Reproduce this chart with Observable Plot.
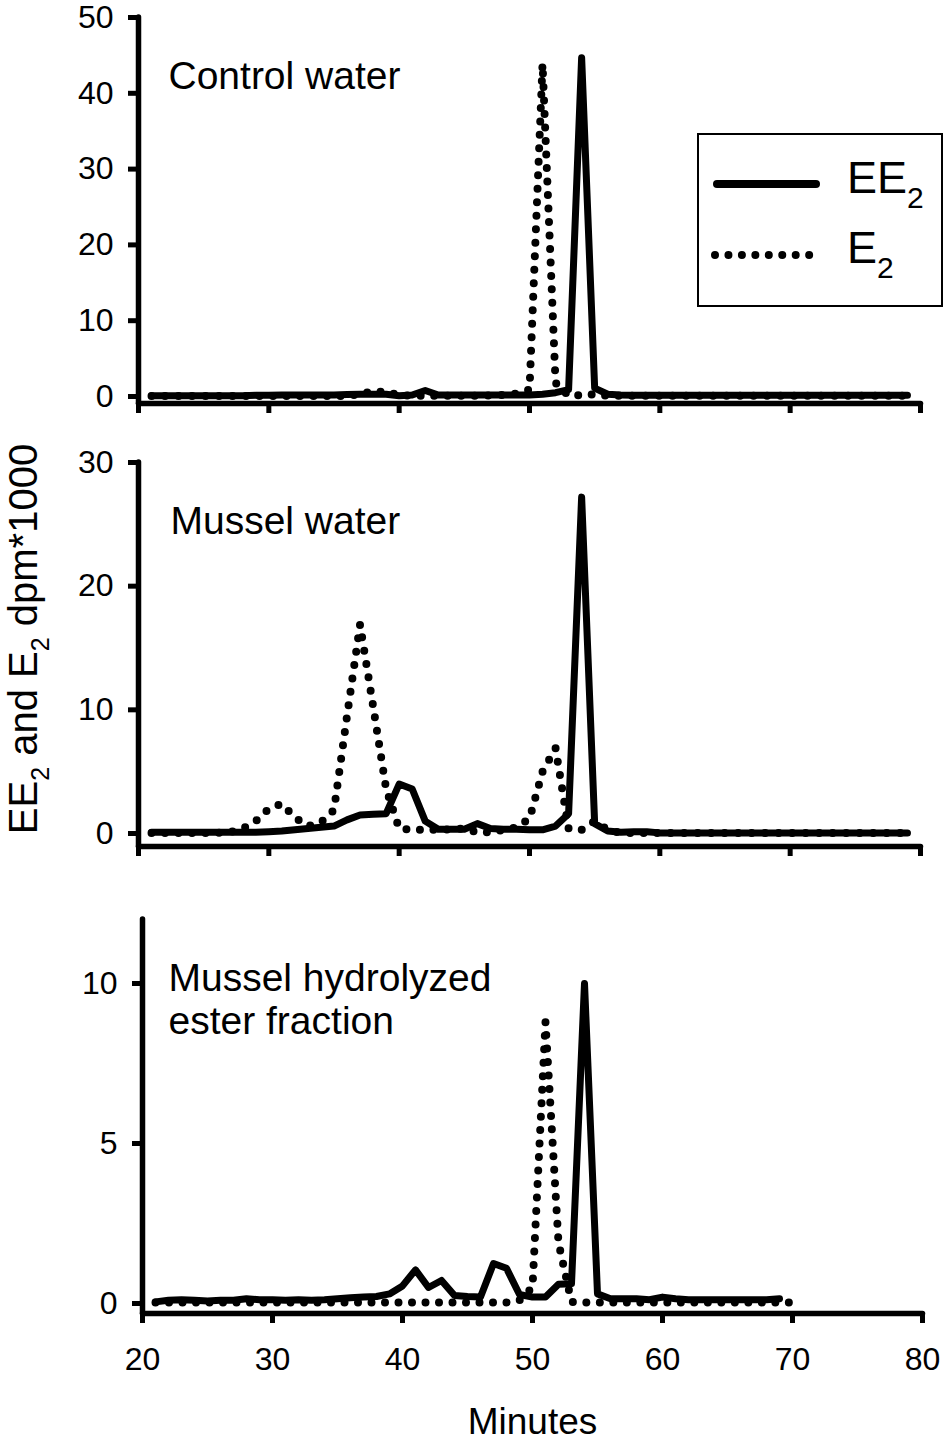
<!DOCTYPE html>
<html>
<head>
<meta charset="utf-8">
<script src="https://cdn.jsdelivr.net/npm/d3@7"></script>
<script src="https://cdn.jsdelivr.net/npm/@observablehq/plot@0.6"></script>
<style>
  body { margin: 0; background: #fff; }
  #chart { position: relative; width: 945px; height: 1439px; font-family: "Liberation Sans", Arial, sans-serif; }
  #chart > svg { position: absolute; left: 0; }
</style>
</head>
<body>
<div id="chart"></div>
<script>
// ---------- data ----------
const xTicks = [20, 30, 40, 50, 60, 70, 80];

const minutesAB = [21,22,23,24,25,26,27,28,29,30,31,32,33,34,35,36,37,38,39,40,41,42,43,44,45,46,47,48,49,50,
  51,52,53,54,55,56,57,58,59,60,61,62,63,64,65,66,67,68,69,70,71,72,73,74,75,76,77,78,79];
const minutesC_EE2 = [21,22,23,24,25,26,27,28,29,30,31,32,33,34,35,36,37,38,39,40,41,42,43,44,45,46,47,48,49,50,
  51,52,53,54,55,56,57,58,59,60,61,62,63,64,65,66,67,68,69];
const minutesC_E2 = [21,22,23,24,25,26,27,28,29,30,31,32,33,34,35,36,37,38,39,40,41,42,43,44,45,46,47,48,49,50,
  51,52,53,54,55,56,57,58,59,60,61,62,63,64,65,66,67,68,69,70];

// Control water
const controlEE2 = [0.1,0.1,0.1,0.1,0.1,0.1,0.1,0.1,0.15,0.15,0.2,0.2,0.2,0.2,0.2,0.25,0.3,0.3,0.3,0.1,
  0.2,0.8,0.2,0.2,0.2,0.2,0.2,0.2,0.2,0.2,0.3,0.5,0.9,44.7,1.1,0.3,0.2,0.15,0.15,0.15,
  0.15,0.15,0.15,0.15,0.15,0.15,0.15,0.15,0.15,0.15,0.15,0.15,0.15,0.15,0.15,0.15,0.15,0.15,0.15];
const controlE2 = [0.05,0.05,0.05,0.05,0.05,0.05,0.05,0.05,0.05,0.05,0.05,0.05,0.05,0.05,0.05,0.05,0.3,0.7,0.6,0.2,
  0.1,0.1,0.1,0.1,0.1,0.1,0.15,0.2,0.4,0.9,43.9,1.8,0.1,0.2,0.3,0.1,0.1,0.1,0.1,0.1,
  0.1,0.1,0.1,0.1,0.1,0.1,0.1,0.1,0.1,0.1,0.1,0.1,0.1,0.1,0.1,0.1,0.1,0.1,0.1];

// Mussel water
const musselEE2 = [0.1,0.1,0.1,0.1,0.1,0.1,0.1,0.1,0.1,0.15,0.2,0.3,0.4,0.5,0.6,1.1,1.5,1.55,1.6,4.0,
  3.6,1.0,0.35,0.35,0.35,0.8,0.4,0.35,0.35,0.3,0.3,0.6,1.6,27.2,0.8,0.2,0.1,0.15,0.15,0.05,
  0.05,0.05,0.05,0.05,0.05,0.05,0.05,0.05,0.05,0.05,0.05,0.05,0.05,0.05,0.05,0.05,0.05,0.05,0.05];
const musselE2 = [0.05,0.05,0.05,0.05,0.05,0.05,0.1,0.4,1.0,2.0,2.4,1.3,0.6,0.9,1.9,9.5,16.9,10.3,3.6,0.4,
  0.3,0.3,0.3,0.35,0.4,0.1,0.1,0.3,0.5,1.2,5.0,6.9,0.4,0.3,1.0,0.3,0.05,0.05,0.05,0.05,
  0.05,0.05,0.05,0.05,0.05,0.05,0.05,0.05,0.05,0.05,0.05,0.05,0.05,0.05,0.05,0.05,0.05,0.05,0.05];

// Mussel hydrolyzed ester fraction
const esterEE2 = [0.05,0.1,0.12,0.1,0.08,0.1,0.1,0.15,0.12,0.12,0.1,0.12,0.1,0.12,0.15,0.18,0.2,0.22,0.3,0.55,
  1.05,0.5,0.72,0.25,0.22,0.2,1.25,1.1,0.28,0.2,0.2,0.6,0.62,10.0,0.3,0.15,0.15,0.15,0.12,0.2,
  0.15,0.12,0.12,0.12,0.12,0.12,0.12,0.12,0.15];
const esterE2 = [0.03,0.03,0.03,0.03,0.03,0.03,0.03,0.03,0.03,0.03,0.03,0.03,0.03,0.03,0.03,0.03,0.03,0.03,0.03,0.03,
  0.03,0.03,0.03,0.03,0.03,0.03,0.03,0.03,0.1,0.5,8.8,1.9,0.05,0.03,0.03,0.03,0.03,0.03,0.03,0.03,
  0.03,0.03,0.03,0.03,0.03,0.03,0.03,0.03,0.03,0.03];

const yTicksTop = [0, 10, 20, 30, 40, 50];
const yTicksMid = [0, 10, 20, 30];
const yTicksBot = [0, 5, 10];

// ---------- drawing ----------
const FONT = "'Liberation Sans', Arial, Helvetica, sans-serif";
const chart = document.getElementById("chart");
const AXW = 5.5;

function panel(cfg) {
  const solid = cfg.xs1.map((m, i) => ({m, v: cfg.ee2[i]}));
  const dotted = cfg.xs2.map((m, i) => ({m, v: cfg.e2[i]}));
  const marks = [
    Plot.ruleX([20], {strokeWidth: AXW, strokeLinecap: "round"}),
    Plot.frame({anchor: "bottom", strokeWidth: AXW, strokeLinecap: "round"}),
    Plot.axisY({ticks: cfg.yTicks, tickSize: 10, tickPadding: 15, fontSize: 32, strokeWidth: 5, label: null}),
    Plot.axisX({ticks: xTicks, tickSize: 10, tickPadding: 24, fontSize: 32, strokeWidth: 5, label: null,
      tickFormat: cfg.showX ? (d => String(d)) : (() => "")}),
    Plot.line(dotted, {x: "m", y: "v", strokeWidth: 8, strokeDasharray: "0 13.5", strokeLinecap: "round"}),
    Plot.line(solid, {x: "m", y: "v", strokeWidth: 7}),
    Plot.text([cfg.title], {text: d => d, frameAnchor: "top-left", dx: cfg.titleDx, dy: 41,
      textAnchor: "start", lineAnchor: "top", fontSize: 39, lineHeight: 1.1})
  ];
  if (cfg.showX) {
    marks.push(Plot.text(["Minutes"], {text: d => d, frameAnchor: "bottom", dy: 94, lineAnchor: "top", fontSize: 37}));
  }
  const svg = Plot.plot({
    width: 945, height: cfg.height,
    marginTop: cfg.marginTop, marginBottom: cfg.marginBottom,
    marginLeft: cfg.marginLeft, marginRight: cfg.marginRight,
    style: {fontFamily: FONT, background: "transparent", color: "#000", overflow: "visible"},
    x: {domain: [20, 80]},
    y: {domain: [0, cfg.yMax], insetBottom: cfg.inset},
    marks
  });
  svg.style.top = cfg.top + "px";
  chart.appendChild(svg);
}

panel({top: 0, height: 440, marginTop: 17, marginBottom: 37, marginLeft: 138, marginRight: 25,
  yMax: 50, inset: 7, yTicks: yTicksTop, xs1: minutesAB, xs2: minutesAB, ee2: controlEE2, e2: controlE2,
  title: "Control water", titleDx: 30, showX: false});
panel({top: 440, height: 426, marginTop: 22, marginBottom: 20, marginLeft: 138, marginRight: 25,
  yMax: 30, inset: 13, yTicks: yTicksMid, xs1: minutesAB, xs2: minutesAB, ee2: musselEE2, e2: musselE2,
  title: "Mussel water", titleDx: 32, showX: false});
panel({top: 866, height: 573, marginTop: 53, marginBottom: 126, marginLeft: 142, marginRight: 23,
  yMax: 12, inset: 10, yTicks: yTicksBot, xs1: minutesC_EE2, xs2: minutesC_E2, ee2: esterEE2, e2: esterE2,
  title: "Mussel hydrolyzed\nester fraction", titleDx: 26, showX: true});

// ---------- legend and y-axis title overlay ----------
const ov = d3.select(chart).append("svg")
  .attr("width", 945).attr("height", 1439)
  .style("top", "0px").style("pointer-events", "none")
  .style("font-family", FONT);

const lg = ov.append("g");
lg.append("rect").attr("x", 698).attr("y", 134).attr("width", 244).attr("height", 172)
  .attr("fill", "#fff").attr("stroke", "#000").attr("stroke-width", 2);
lg.append("line").attr("x1", 717).attr("x2", 816).attr("y1", 184).attr("y2", 184)
  .attr("stroke", "#000").attr("stroke-width", 8).attr("stroke-linecap", "round");
lg.append("line").attr("x1", 715).attr("x2", 810).attr("y1", 255).attr("y2", 255)
  .attr("stroke", "#000").attr("stroke-width", 8).attr("stroke-linecap", "round")
  .attr("stroke-dasharray", "0 13.45");
const t1 = lg.append("text").attr("x", 847).attr("y", 193).attr("font-size", 45);
t1.append("tspan").text("EE");
t1.append("tspan").attr("font-size", 30).attr("dy", 15).text("2");
const t2 = lg.append("text").attr("x", 847).attr("y", 263).attr("font-size", 45);
t2.append("tspan").text("E");
t2.append("tspan").attr("font-size", 30).attr("dy", 15).text("2");

const yl = ov.append("text").attr("transform", "translate(37,639) rotate(-90)")
  .attr("text-anchor", "middle").attr("font-size", 40);
yl.append("tspan").text("EE");
yl.append("tspan").attr("font-size", 25).attr("dy", 12).text("2");
yl.append("tspan").attr("dy", -12).text(" and E");
yl.append("tspan").attr("font-size", 25).attr("dy", 12).text("2");
yl.append("tspan").attr("dy", -12).text(" dpm*1000");
</script>
</body>
</html>
